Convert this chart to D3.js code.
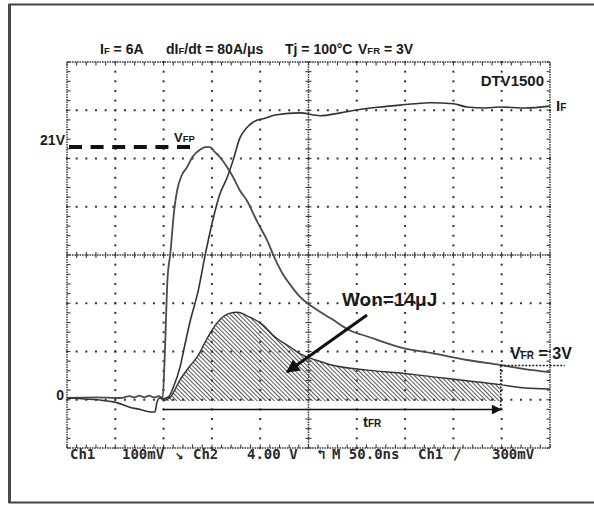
<!DOCTYPE html>
<html>
<head>
<meta charset="utf-8">
<script src="https://cdn.jsdelivr.net/npm/d3@7"></script>
<style>
  body { margin: 0; background: #fff; }
  svg { display: block; }
</style>
</head>
<body>
<div id="scope"></div>
<script>
// Scope readings, time in ns (50 ns/div)

// Ch2: forward voltage V_F (4 V/div)
const vTime  = [0, 30, 55, 65, 70, 75, 80, 85, 90, 95, 99, 101, 104, 107, 111, 114, 119, 124, 130, 138, 143, 148, 153, 158, 166, 172, 179, 186, 197, 207, 215, 224, 231, 241, 259, 275, 293, 311, 345, 379, 414, 448, 474, 500];
const vVolts = [0, 0.05, 0, 0.15, 0.05, 0.2, 0.05, 0.2, 0.05, 0.15, 0, 3.1, 9.8, 12.0, 15.6, 17.2, 18.5, 19.1, 20.0, 20.6, 20.8, 20.8, 20.4, 20.0, 19.1, 18.3, 17.2, 16.4, 14.6, 13.1, 11.6, 10.2, 9.4, 8.4, 7.3, 6.5, 5.6, 5.1, 4.2, 3.7, 3.15, 2.74, 2.4, 2.15];

// Ch1: forward current I_F (1 A/div)
const iTime = [0, 48, 65, 76, 86, 91, 93, 96, 99, 105, 111, 117, 122, 127, 136, 143, 151, 158, 166, 172, 179, 186, 193, 205, 217, 241, 262, 283, 300, 324, 345, 360, 376, 400, 414, 433, 448, 474, 500];
const iAmps = [0, -0.08, -0.19, -0.24, -0.29, -0.29, -0.1, 0, -0.02, 0.02, 0.27, 0.64, 1.10, 1.55, 2.24, 2.96, 3.69, 4.21, 4.58, 4.93, 5.39, 5.60, 5.72, 5.80, 5.87, 5.91, 5.85, 5.91, 5.97, 6.03, 6.07, 6.10, 6.12, 6.10, 6.03, 6.01, 6.03, 6.01, 6.05];

// Math: instantaneous power (50 W/div), shaded up to the end of t_FR
const pTime  = [99, 107, 117, 127, 135, 143, 148, 158, 169, 176, 189, 200, 217, 231, 241, 259, 275, 311, 345, 379, 414, 448, 474, 500];
const pWatts = [0, 4, 22, 36, 46, 61, 70, 84, 91, 92, 87, 81, 65, 56, 49, 42, 37, 32, 29, 25, 21, 17, 13.5, 12.4];

const tFRStart = 99, tFREnd = 449;
const vfrLevel = 2.7;

const titleParts = [["I", "F", " = 6A"], ["dI", "F", "/dt = 80A/\u03bcs"], ["Tj = 100\u00b0C"], ["V", "FR", " = 3V"]];
const statusLabels = ["Ch1", "100mV", "\u2198", "Ch2", "4.00 V", "\u21b0", "M 50.0ns", "Ch1", "/", "300mV"];

const ink = "#1a1a1a", grey = "#3c3c3c";
const font = "'Liberation Sans', Arial, sans-serif";

const svg = d3.select("#scope").append("svg")
    .attr("width", 594)
    .attr("height", 505);

// outer frame
svg.append("rect")
    .attr("x", 9.5).attr("y", 4.5)
    .attr("width", 620).attr("height", 498)
    .attr("fill", "none")
    .attr("stroke", "#444")
    .attr("stroke-width", 2);
svg.append("line")
    .attr("x1", 9.5).attr("x2", 9.5).attr("y1", 4).attr("y2", 503)
    .attr("stroke", "#4a4a4a").attr("stroke-width", 3);

// graticule: 10 x 8 divisions
const gx = d3.scaleLinear().domain([0, 10]).range([67, 550]);
const gy = d3.scaleLinear().domain([0, 8]).range([448, 62]);

// channel scales
const x  = d3.scaleLinear().domain([0, 500]).range([67, 550]);
const yV = d3.scaleLinear().domain([0, 4]).range([398, 398 - 48.25]);
const yI = d3.scaleLinear().domain([0, 1]).range([398, 398 - 48.25]);
const yP = d3.scaleLinear().domain([0, 50]).range([401, 401 - 48.25]);

const grid = svg.append("g");

// dotted grid lines (dots every 1/5 division)
const dots = [];
d3.range(1, 10).filter(k => k != 5).forEach(k => {
    d3.range(0, 41).forEach(j => dots.push([gx(k), gy(j / 5)]));
});
d3.range(1, 8).filter(m => m != 4).forEach(m => {
    d3.range(0, 51).forEach(i => dots.push([gx(i / 5), gy(m)]));
});
grid.selectAll(".dot")
    .data(dots)
    .enter().append("rect")
    .attr("x", d => d[0] - 1)
    .attr("y", d => d[1] - 1)
    .attr("width", 2).attr("height", 2)
    .attr("fill", "#333");

// border and centre lines, speckled with minor ticks
const frameLines = [
    [gx(0), gy(0), gx(0), gy(8)],
    [gx(10), gy(0), gx(10), gy(8)],
    [gx(0), gy(0), gx(10), gy(0)],
    [gx(0), gy(8), gx(10), gy(8)],
    [gx(5), gy(0), gx(5), gy(8)],
    [gx(0), gy(4), gx(10), gy(4)]
];
grid.selectAll(".frame")
    .data(frameLines)
    .enter().append("line")
    .attr("x1", d => d[0]).attr("y1", d => d[1])
    .attr("x2", d => d[2]).attr("y2", d => d[3])
    .attr("stroke", grey)
    .attr("stroke-width", 1.5)
    .attr("stroke-dasharray", "1.6,0.9");

const ticks = [];
d3.range(0, 41).forEach(j => {
    const yy = gy(j / 5);
    ticks.push([gx(0), yy, gx(0) + 3.5, yy]);
    ticks.push([gx(10) - 3.5, yy, gx(10), yy]);
    ticks.push([gx(5) - 3, yy, gx(5) + 3, yy]);
});
d3.range(0, 51).forEach(i => {
    const xx = gx(i / 5);
    ticks.push([xx, gy(8), xx, gy(8) + 3.5]);
    ticks.push([xx, gy(0) - 3.5, xx, gy(0)]);
    ticks.push([xx, gy(4) - 3, xx, gy(4) + 3]);
});
grid.selectAll(".tick")
    .data(ticks)
    .enter().append("line")
    .attr("x1", d => d[0]).attr("y1", d => d[1])
    .attr("x2", d => d[2]).attr("y2", d => d[3])
    .attr("stroke", grey)
    .attr("stroke-width", 1.1);

// hatch for the switching energy area
const defs = svg.append("defs");
defs.append("pattern")
    .attr("id", "hatch")
    .attr("patternUnits", "userSpaceOnUse")
    .attr("width", 3).attr("height", 3)
    .attr("patternTransform", "rotate(-45)")
    .append("line")
    .attr("x1", 0).attr("y1", 0).attr("x2", 0).attr("y2", 3)
    .attr("stroke", "#444")
    .attr("stroke-width", 1.8);

defs.append("marker")
    .attr("id", "headBig")
    .attr("viewBox", "0 0 10 10")
    .attr("refX", 9).attr("refY", 5)
    .attr("markerWidth", 5.5).attr("markerHeight", 4.5)
    .attr("markerUnits", "strokeWidth")
    .attr("orient", "auto")
    .append("path").attr("d", "M0,0 L10,5 L0,10 Z").attr("fill", "#111");

defs.append("marker")
    .attr("id", "headSmall")
    .attr("viewBox", "0 0 10 10")
    .attr("refX", 9).attr("refY", 5)
    .attr("markerWidth", 9).attr("markerHeight", 7)
    .attr("markerUnits", "strokeWidth")
    .attr("orient", "auto")
    .append("path").attr("d", "M0,0 L10,5 L0,10 Z").attr("fill", "#111");

// power area (shaded inside t_FR)
const pData = d3.zip(pTime, pWatts);
const pShade = pData.filter(d => d[0] <= tFREnd);
svg.append("path")
    .datum(pShade)
    .attr("fill", "url(#hatch)")
    .attr("d", d3.area()
        .x(d => x(d[0]))
        .y0(yP(0))
        .y1(d => yP(d[1]))
        .curve(d3.curveMonotoneX));
svg.append("path")
    .datum(pData)
    .attr("fill", "none")
    .attr("stroke", "#333")
    .attr("stroke-width", 1.4)
    .attr("d", d3.line()
        .x(d => x(d[0]))
        .y(d => yP(d[1]))
        .curve(d3.curveMonotoneX));

// voltage trace
svg.append("path")
    .datum(d3.zip(vTime, vVolts))
    .attr("fill", "none")
    .attr("stroke", "#4a4a4a")
    .attr("stroke-width", 1.8)
    .attr("d", d3.line()
        .x(d => x(d[0]))
        .y(d => yV(d[1]))
        .curve(d3.curveMonotoneX));

// current trace
svg.append("path")
    .datum(d3.zip(iTime, iAmps))
    .attr("fill", "none")
    .attr("stroke", "#333")
    .attr("stroke-width", 1.6)
    .attr("d", d3.line()
        .x(d => x(d[0]))
        .y(d => yI(d[1]))
        .curve(d3.curveMonotoneX));

// V_FP level
const vfp = d3.max(vVolts);
svg.append("line")
    .attr("x1", gx(0) + 2).attr("x2", x(128))
    .attr("y1", yV(vfp)).attr("y2", yV(vfp))
    .attr("stroke", "#111")
    .attr("stroke-width", 4)
    .attr("stroke-dasharray", "13,8.6");

// V_FR markers
svg.append("line")
    .attr("x1", x(tFREnd)).attr("x2", x(tFREnd) + 64)
    .attr("y1", yV(vfrLevel)).attr("y2", yV(vfrLevel))
    .attr("stroke", "#222").attr("stroke-width", 1.6)
    .attr("stroke-dasharray", "2,1.5");
svg.append("line")
    .attr("x1", x(tFREnd)).attr("x2", x(tFREnd))
    .attr("y1", yV(vfrLevel)).attr("y2", 410)
    .attr("stroke", "#222").attr("stroke-width", 1.6)
    .attr("stroke-dasharray", "2,1.5");

// t_FR arrow
svg.append("line")
    .attr("x1", x(tFRStart)).attr("x2", x(tFREnd))
    .attr("y1", 409.5).attr("y2", 409.5)
    .attr("stroke", "#111")
    .attr("stroke-width", 1.4)
    .attr("marker-end", "url(#headSmall)");

// Won arrow
svg.append("line")
    .attr("x1", 367).attr("y1", 315)
    .attr("x2", 287).attr("y2", 372)
    .attr("stroke", "#111")
    .attr("stroke-width", 3)
    .attr("marker-end", "url(#headBig)");

// text helpers
function subText(sel, parts, size, subSize) {
    parts.forEach((p, i) => {
        sel.append("tspan")
            .attr("font-size", i % 2 ? subSize : size)
            .text(p);
    });
}

// title
const titleX = [100, 166, 285, 358];
titleParts.forEach((parts, k) => {
    const t = svg.append("text")
        .attr("x", titleX[k]).attr("y", 54)
        .attr("font-family", font)
        .attr("font-weight", "bold")
        .attr("fill", ink);
    subText(t, parts, 14, 9.5);
});

svg.append("text")
    .attr("x", 544).attr("y", 86)
    .attr("text-anchor", "end")
    .attr("font-family", font).attr("font-weight", "bold")
    .attr("font-size", 15).attr("fill", ink)
    .text("DTV1500");

subText(svg.append("text")
    .attr("x", 556).attr("y", 111)
    .attr("font-family", font).attr("font-weight", "bold")
    .attr("fill", ink), ["I", "F"], 15, 10);

svg.append("text")
    .attr("x", 65).attr("y", 145)
    .attr("text-anchor", "end")
    .attr("font-family", font).attr("font-weight", "bold")
    .attr("font-size", 14).attr("fill", ink)
    .text("21V");

svg.append("text")
    .attr("x", 64).attr("y", 400)
    .attr("text-anchor", "end")
    .attr("font-family", font).attr("font-weight", "bold")
    .attr("font-size", 14).attr("fill", ink)
    .text("0");

subText(svg.append("text")
    .attr("x", 174).attr("y", 142)
    .attr("font-family", font).attr("font-weight", "bold")
    .attr("fill", ink), ["V", "FP"], 13, 9.5);

svg.append("text")
    .attr("x", 342).attr("y", 306)
    .attr("font-family", font).attr("font-weight", "bold")
    .attr("font-size", 19).attr("fill", ink)
    .text("Won=14\u03bcJ");

subText(svg.append("text")
    .attr("x", 510).attr("y", 359)
    .attr("font-family", font).attr("font-weight", "bold")
    .attr("fill", ink), ["V", "FR", " = 3V"], 16, 10);

subText(svg.append("text")
    .attr("x", 363).attr("y", 427)
    .attr("font-family", font).attr("font-weight", "bold")
    .attr("fill", ink), ["t", "FR"], 15, 10);

// scope status line
const statusX = [70, 122, 175, 193, 247, 317, 332, 418, 453, 492];
svg.selectAll(".status")
    .data(statusLabels)
    .enter().append("text")
    .attr("x", (d, i) => statusX[i])
    .attr("y", 459)
    .attr("font-family", "'DejaVu Sans Mono', monospace")
    .attr("font-weight", "bold")
    .attr("font-size", 14)
    .attr("fill", "#2a2a2a")
    .text(d => d);
</script>
</body>
</html>
